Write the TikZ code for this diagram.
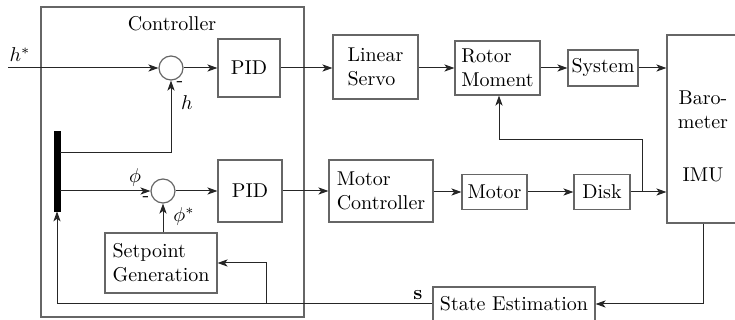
\documentclass[tikz,border=0pt]{standalone}
\usetikzlibrary{arrows.meta}
\begin{document}
\begin{tikzpicture}[x=0.5pt,y=-0.5pt,
  box/.style={draw=black!60,line width=0.6pt,rectangle,inner sep=0pt,align=left},
  sumc/.style={draw=black!60,line width=0.6pt,circle,minimum size=12pt,inner sep=0pt},
  conn/.style={draw=black!85,line width=0.5pt},
  arr/.style={conn,-{Stealth[length=5pt,width=3.6pt,inset=1.3pt]}},
  lbl/.style={inner sep=0pt}]
\useasboundingbox (0,0) rectangle (735,320);
\clip (0,0) rectangle (735,320);
% controller frame
\node[box,minimum width=131.5pt,minimum height=155pt] (ctrl) at (172.5,162) {};
\node[lbl] (ctrltxt) at (172,24) {Controller};
% blocks
\node[sumc] (c1) at (171,68) {};
\node[sumc] (c2) at (163,191) {};
\node[box,minimum width=31pt,minimum height=29pt] (pid1) at (249,68) {PID};
\node[box,minimum width=32pt,minimum height=31pt] (pid2) at (250,191) {PID};
\node[box,minimum width=56pt,minimum height=30pt] (sp) at (161,263) {Setpoint\\Generation};
\node[draw=black,fill=black,minimum width=3pt,minimum height=40pt,inner sep=0pt] (bar) at (57,171) {};
\node[box,minimum width=42.5pt,minimum height=32pt] (ls) at (375.5,67) {Linear\\Servo};
\node[box,minimum width=42.5pt,minimum height=27pt] (rm) at (497.5,68) {Rotor\\Moment};
\node[box,minimum width=35pt,minimum height=18pt] (sys) at (603,68) {System};
\node[box,minimum width=36pt,minimum height=94pt] (sens) at (703,129) {};
\node[lbl,align=center] (baro) at (703,110) {Baro-\\meter};
\node[lbl] (imu) at (703,175) {IMU};
\node[box,minimum width=52pt,minimum height=31pt] (mc) at (381,191) {Motor\\Controller};
\node[box,minimum width=32.5pt,minimum height=17.5pt] (motor) at (494.5,192) {Motor};
\node[box,minimum width=28pt,minimum height=17.5pt] (disk) at (602,192) {Disk};
\node[box,minimum width=81pt,minimum height=17pt] (se) at (514,304) {State Estimation};
% labels
\node[lbl] (lhs) at (20,55) {$h^*$};
\node[lbl] (lm1) at (180,84) {-};
\node[lbl] (lh) at (187,103) {$h$};
\node[lbl] (lphi) at (135,178) {$\phi$};
\node[lbl] (lm2) at (146,199) {-};
\node[lbl] (lphis) at (184,217) {$\phi^*$};
\node[lbl] (ls2) at (418,295) {$\mathbf{s}$};
% coordinates
\coordinate (in) at (8,68);
\coordinate (hb) at (171,153);
\coordinate (j1) at (642,192);
\coordinate (fb) at (499,140);
\coordinate (br) at (266,304);
% connectors
\draw[arr] (in) -- (c1.west);
\draw[arr] (c1.east) -- (pid1.west);
\draw[arr] (bar.east |- hb) -- (hb) -- (c1.south);
\draw[arr] (bar.east |- c2) -- (c2.west);
\draw[arr] (c2.east) -- (pid2.west);
\draw[arr] (c2 |- sp.north) -- (c2.south);
\draw[arr] (pid1.east) -- (ls.west |- pid1.east);
\draw[arr] (ls.east |- rm.west) -- (rm.west);
\draw[arr] (rm.east) -- (sys.west);
\draw[arr] (sys.east) -- (sens.west |- sys.east);
\draw[arr] (pid2.east) -- (mc.west |- pid2.east);
\draw[arr] (mc.east |- motor.west) -- (motor.west);
\draw[arr] (motor.east) -- (disk.west);
\draw[arr] (disk.east) -- (sens.west |- disk.east);
\draw[arr] (j1) |- (fb) -- (fb |- rm.south);
\draw[arr] (sens.south) |- (se.east);
\draw[arr] (se.west) -- (bar.south |- se.west) -- (bar.south);
\draw[arr] (br) |- (sp.east);
\end{tikzpicture}
\end{document}
